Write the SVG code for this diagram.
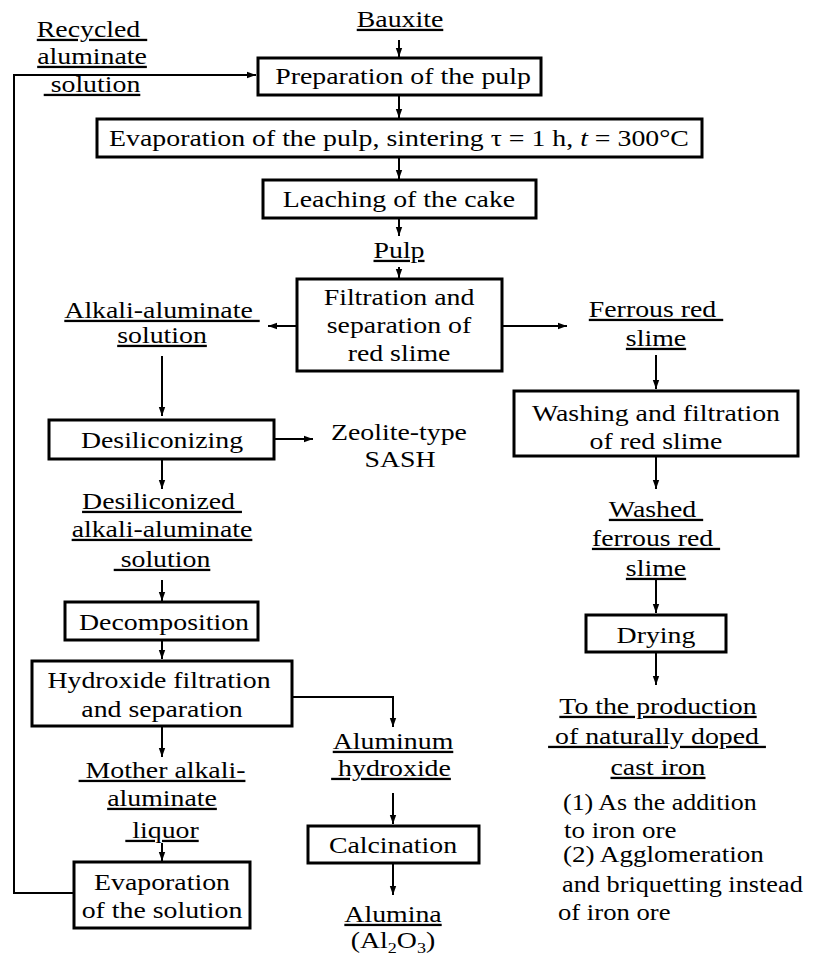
<svg xmlns="http://www.w3.org/2000/svg" width="815" height="955" viewBox="0 0 815 955">
<style>
text{font-family:"Liberation Serif","Times New Roman",serif;font-size:23px;fill:#000}
.c{text-anchor:middle}
.u{text-decoration:underline}
.box{fill:#fff;stroke:#000;stroke-width:3}
.ln{fill:none;stroke:#000;stroke-width:2}
</style>
<defs>
<marker id="ah" markerUnits="userSpaceOnUse" markerWidth="10" markerHeight="8" refX="9" refY="4" orient="auto">
<path d="M0,0.8 L9,4 L0,7.2 z" fill="#000"/>
</marker>
</defs>
<g id="connectors">
<line class="ln" x1="399" y1="40" x2="399" y2="57" marker-end="url(#ah)"/>
<line class="ln" x1="399" y1="96" x2="399" y2="118" marker-end="url(#ah)"/>
<line class="ln" x1="399" y1="157" x2="399" y2="179" marker-end="url(#ah)"/>
<line class="ln" x1="399" y1="218" x2="399" y2="236" marker-end="url(#ah)"/>
<line class="ln" x1="399" y1="267" x2="399" y2="278" marker-end="url(#ah)"/>
<line class="ln" x1="297" y1="326" x2="268" y2="326" marker-end="url(#ah)"/>
<line class="ln" x1="502" y1="326" x2="567" y2="326" marker-end="url(#ah)"/>
<line class="ln" x1="162" y1="356" x2="162" y2="416" marker-end="url(#ah)"/>
<line class="ln" x1="274" y1="439" x2="313" y2="439" marker-end="url(#ah)"/>
<line class="ln" x1="162" y1="459" x2="162" y2="489" marker-end="url(#ah)"/>
<line class="ln" x1="162" y1="580" x2="162" y2="601" marker-end="url(#ah)"/>
<line class="ln" x1="162" y1="640" x2="162" y2="659" marker-end="url(#ah)"/>
<line class="ln" x1="162" y1="727" x2="162" y2="757" marker-end="url(#ah)"/>
<line class="ln" x1="162" y1="843" x2="162" y2="861" marker-end="url(#ah)"/>
<polyline class="ln" points="292,697 393,697 393,727" marker-end="url(#ah)"/>
<line class="ln" x1="393" y1="793" x2="393" y2="824" marker-end="url(#ah)"/>
<line class="ln" x1="393" y1="864" x2="393" y2="895" marker-end="url(#ah)"/>
<line class="ln" x1="656" y1="355" x2="656" y2="389" marker-end="url(#ah)"/>
<line class="ln" x1="656" y1="456" x2="656" y2="489" marker-end="url(#ah)"/>
<line class="ln" x1="656" y1="580" x2="656" y2="613" marker-end="url(#ah)"/>
<line class="ln" x1="656" y1="652" x2="656" y2="685" marker-end="url(#ah)"/>
<polyline class="ln" points="74,893 14,893 14,75 256,75" marker-end="url(#ah)"/>
</g>
<g id="bauxite"><text class="c u" transform="matrix(1.21 0 0 1 400 27)">Bauxite</text></g>
<g id="recycled">
<text class="c u" transform="matrix(1.21 0 0 1 92 37)" xml:space="preserve">Recycled </text>
<text class="c u" transform="matrix(1.21 0 0 1 92 64)">aluminate</text>
<text class="c u" transform="matrix(1.21 0 0 1 92 92)" xml:space="preserve"> solution</text>
</g>
<g id="prep"><rect class="box" x="258" y="58" width="283" height="37"/><text class="c" transform="matrix(1.21 0 0 1 403 84)">Preparation of the pulp</text></g>
<g id="evap"><rect class="box" x="97" y="119" width="605" height="38"/><text class="c" transform="matrix(1.21 0 0 1 399 146)">Evaporation of the pulp, sintering τ = 1 h, <tspan font-style="italic">t</tspan> = 300°C</text></g>
<g id="leach"><rect class="box" x="263" y="180" width="273" height="38"/><text class="c" transform="matrix(1.21 0 0 1 399 207)">Leaching of the cake</text></g>
<g id="pulp"><text class="c u" transform="matrix(1.21 0 0 1 399 258)">Pulp</text></g>
<g id="filtration"><rect class="box" x="297" y="279" width="205" height="92"/>
<text class="c" transform="matrix(1.21 0 0 1 399 305)">Filtration and</text>
<text class="c" transform="matrix(1.21 0 0 1 399 333)">separation of</text>
<text class="c" transform="matrix(1.21 0 0 1 399 361)">red slime</text></g>
<g id="alkali">
<text class="c u" transform="matrix(1.21 0 0 1 162 318)" xml:space="preserve">Alkali-aluminate </text>
<text class="c u" transform="matrix(1.21 0 0 1 162 343)">solution</text></g>
<g id="ferrous">
<text class="c u" transform="matrix(1.21 0 0 1 656 317)" xml:space="preserve">Ferrous red </text>
<text class="c u" transform="matrix(1.21 0 0 1 656 346)">slime</text></g>
<g id="desil"><rect class="box" x="49" y="420" width="225" height="39"/><text class="c" transform="matrix(1.21 0 0 1 162 448)">Desiliconizing</text></g>
<g id="zeolite">
<text class="c" transform="matrix(1.21 0 0 1 399 440)">Zeolite-type</text>
<text class="c" transform="matrix(1.21 0 0 1 400 467)">SASH</text></g>
<g id="washing"><rect class="box" x="514" y="391" width="284" height="65"/>
<text class="c" transform="matrix(1.21 0 0 1 656 421)">Washing and filtration</text>
<text class="c" transform="matrix(1.21 0 0 1 656 449)">of red slime</text></g>
<g id="desilsol">
<text class="c u" transform="matrix(1.21 0 0 1 162 509)" xml:space="preserve">Desiliconized </text>
<text class="c u" transform="matrix(1.21 0 0 1 162 537)">alkali-aluminate</text>
<text class="c u" transform="matrix(1.21 0 0 1 162 567)" xml:space="preserve"> solution</text></g>
<g id="washed">
<text class="c u" transform="matrix(1.21 0 0 1 656 517)" xml:space="preserve">Washed </text>
<text class="c u" transform="matrix(1.21 0 0 1 656 546)" xml:space="preserve">ferrous red </text>
<text class="c u" transform="matrix(1.21 0 0 1 656 576)">slime</text></g>
<g id="decomp"><rect class="box" x="65" y="602" width="193" height="38"/><text class="c" transform="matrix(1.21 0 0 1 164 630)">Decomposition</text></g>
<g id="drying"><rect class="box" x="586" y="615" width="140" height="37"/><text class="c" transform="matrix(1.21 0 0 1 656 643)">Drying</text></g>
<g id="hydroxide"><rect class="box" x="32" y="661" width="260" height="65"/>
<text class="c" transform="matrix(1.21 0 0 1 159 688)">Hydroxide filtration</text>
<text class="c" transform="matrix(1.21 0 0 1 162 717)">and separation</text></g>
<g id="production">
<text class="c u" transform="matrix(1.21 0 0 1 658 714)">To the production</text>
<text class="c u" transform="matrix(1.21 0 0 1 657 744)" xml:space="preserve"> of naturally doped </text>
<text class="c u" transform="matrix(1.21 0 0 1 658 775)">cast iron</text>
<text transform="matrix(1.21 0 0 1 563 810)" textLength="160" lengthAdjust="spacingAndGlyphs">(1) As the addition</text>
<text transform="matrix(1.21 0 0 1 564 838)" textLength="93" lengthAdjust="spacingAndGlyphs">to iron ore</text>
<text transform="matrix(1.21 0 0 1 563 862)" textLength="166" lengthAdjust="spacingAndGlyphs">(2) Agglomeration</text>
<text transform="matrix(1.21 0 0 1 562 892)" textLength="199" lengthAdjust="spacingAndGlyphs">and briquetting instead</text>
<text transform="matrix(1.21 0 0 1 558 920)" textLength="93" lengthAdjust="spacingAndGlyphs">of iron ore</text></g>
<g id="aluhyd">
<text class="c u" transform="matrix(1.21 0 0 1 393 749)">Aluminum</text>
<text class="c u" transform="matrix(1.21 0 0 1 391 776)" xml:space="preserve"> hydroxide</text></g>
<g id="mother">
<text class="c u" transform="matrix(1.21 0 0 1 162 778)" xml:space="preserve"> Mother alkali-</text>
<text class="c u" transform="matrix(1.21 0 0 1 162 806)">aluminate</text>
<text class="c u" transform="matrix(1.21 0 0 1 162 838)" xml:space="preserve"> liquor</text></g>
<g id="calc"><rect class="box" x="308" y="826" width="171" height="37"/><text class="c" transform="matrix(1.21 0 0 1 393 853)">Calcination</text></g>
<g id="evapsol"><rect class="box" x="74" y="862" width="176" height="66"/>
<text class="c" transform="matrix(1.21 0 0 1 162 890)">Evaporation</text>
<text class="c" transform="matrix(1.21 0 0 1 162 918)">of the solution</text></g>
<g id="alumina">
<text class="c u" transform="matrix(1.21 0 0 1 393 922)">Alumina</text>
<text class="c" transform="matrix(1.21 0 0 1 393 948)">(Al<tspan font-size="15" dy="5">2</tspan><tspan dy="-5">O</tspan><tspan font-size="15" dy="5">3</tspan><tspan dy="-5">)</tspan></text></g>
</svg>
